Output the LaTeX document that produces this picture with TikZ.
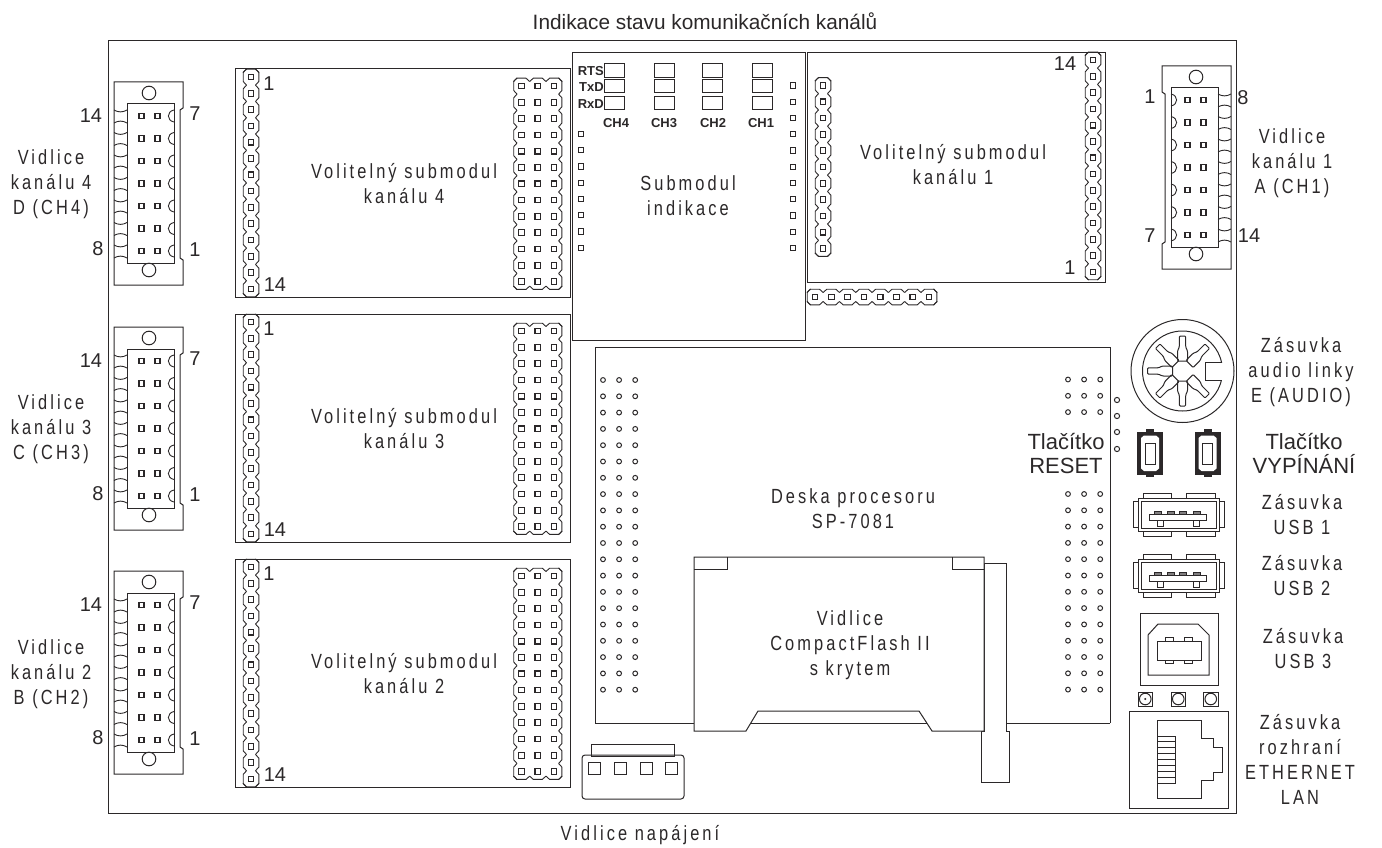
\documentclass[tikz,border=0pt]{standalone}
\usepackage{fontspec}
\setmainfont{Liberation Sans}
\newfontfamily\lblfont[FakeStretch=0.8,LetterSpace=15]{Liberation Sans}
\definecolor{linecol}{HTML}{2B2829}

\tikzset{
    outline/.style={draw=linecol,line width=1pt,line join=miter},
    lobe/.style={draw=linecol,line width=0.9pt},
    pad/.style={draw=linecol,line width=1.1pt},
    hole/.style={draw=linecol,line width=1pt},
    lbl/.style={inner sep=0pt,align=center,text=linecol,font=\fontsize{20.5}{25}\selectfont\lblfont},
    num/.style={inner sep=0pt,text=linecol,font=\fontsize{20}{22}\selectfont},
    big/.style={inner sep=0pt,align=center,text=linecol,font=\fontsize{22}{24}\selectfont},
    head/.style={inner sep=0pt,text=linecol,font=\fontsize{20.8}{22}\selectfont},
    led/.style={inner sep=0pt,text=linecol,font=\fontsize{13}{14}\selectfont\bfseries}
}

\newcommand{\pinstrip}[4]{
    \foreach \c in {1,...,#3} {
        \foreach \r in {1,...,#4} {
            \pgfmathsetmacro{\px}{#1+(\c-1)*16.3}
            \pgfmathsetmacro{\py}{#2+(\r-1)*16.3}
            \draw[pad] (\px-2.8,\py-2.8) rectangle (\px+2.8,\py+2.8);
        }
    }
    \pgfmathsetmacro{\xa}{#1}
    \pgfmathsetmacro{\xb}{#1+(#3-1)*16.3}
    \pgfmathsetmacro{\ya}{#2}
    \pgfmathsetmacro{\yb}{#2+(#4-1)*16.3}
    \foreach \r in {1,...,#4} {
        \pgfmathsetmacro{\py}{#2+(\r-1)*16.3}
        \draw[lobe] (\xa-4.5,\py-8.15) -- (\xa-7.8,\py-4.5) -- (\xa-7.8,\py+4.5) -- (\xa-4.5,\py+8.15);
        \draw[lobe] (\xb+4.5,\py-8.15) -- (\xb+7.8,\py-4.5) -- (\xb+7.8,\py+4.5) -- (\xb+4.5,\py+8.15);
    }
    \foreach \c in {1,...,#3} {
        \pgfmathsetmacro{\px}{#1+(\c-1)*16.3}
        \draw[lobe] (\px-8.15,\ya-4.5) -- (\px-4.5,\ya-7.8) -- (\px+4.5,\ya-7.8) -- (\px+8.15,\ya-4.5);
        \draw[lobe] (\px-8.15,\yb+4.5) -- (\px-4.5,\yb+7.8) -- (\px+4.5,\yb+7.8) -- (\px+8.15,\yb+4.5);
    }
}

\newcommand{\padcolumn}[4]{
    \foreach \r in {1,...,#4} {
        \pgfmathsetmacro{\py}{#2+(\r-1)*#3}
        \draw[pad] (#1-2.6,\py-2.6) rectangle (#1+2.6,\py+2.6);
    }
}

\newcommand{\holegrid}[3]{
    \foreach \c in {0,1,2} {
        \foreach \r in {1,...,#3} {
            \pgfmathsetmacro{\px}{#1+\c*16.1}
            \pgfmathsetmacro{\py}{#2+(\r-1)*16.3}
            \draw[hole] (\px,\py) circle[radius=2.4];
        }
    }
}

\newcommand{\channelconn}[1]{
    \begin{scope}[#1]
        \draw[outline] (114,82) -- (183,82) -- (183,108) -- (180,110) -- (180,258) -- (183,260) -- (183,285) -- (114,285) -- cycle;
        \draw[outline] (127,104) rectangle (174,263);
        \draw[outline] (149,93) circle[radius=6.8];
        \draw[outline] (149,270) circle[radius=6.8];
        \foreach \r in {0,...,6} {
            \pgfmathsetmacro{\py}{116+\r*22.5}
            \draw[pad] (139,\py-2.6) rectangle (144,\py+2.6);
            \draw[pad] (155,\py-2.6) rectangle (160,\py+2.6);
            \draw[lobe] (174,\py-6) .. controls (166.5,\py-4.5) and (166.5,\py+4.5) .. (174,\py+6);
            \draw[lobe] (114,\py-6) .. controls (118,\py-3.5) and (123,\py-3.5) .. (127,\py-6);
            \draw[lobe] (114,\py+7) .. controls (118,\py+4.5) and (123,\py+4.5) .. (127,\py+7);
        }
    \end{scope}
}

\newcommand{\usbsocket}[1]{
    \begin{scope}[shift={(0,#1)}]
        \draw[outline] (1143,554) rectangle (1171,559);
        \draw[outline] (1186,554) rectangle (1215,559);
        \draw[outline] (1143,592) rectangle (1171,597);
        \draw[outline] (1186,592) rectangle (1215,597);
        \draw[outline] (1133,562) rectangle (1138,588);
        \draw[outline] (1219,562) rectangle (1224,588);
        \draw[outline] (1138,559) rectangle (1219,592);
        \draw[outline] (1141,562) rectangle (1216,589);
        \draw[outline] (1149,575) rectangle (1206,581);
        \foreach \px in {1158,1171,1183,1197} {
            \draw[outline,fill=linecol!60] (\px-3.5,572.5) rectangle (\px+3.5,575);
        }
        \draw[outline] (1157,581) rectangle (1163,587);
        \draw[outline] (1193,581) rectangle (1199,587);
    \end{scope}
}

\newcommand{\pushbutton}[1]{
    \begin{scope}[shift={(#1,0)}]
        \fill[linecol] (1146,429) rectangle (1154,433);
        \fill[linecol] (1146,473) rectangle (1154,477);
        \fill[linecol] (1137,431.5) rectangle (1163,475);
        \fill[white] (1141,438) -- (1144,435.5) -- (1156,435.5) -- (1159,438) -- (1159,468.5) -- (1156,471) -- (1144,471) -- (1141,468.5) -- cycle;
        \draw[outline] (1145,443) rectangle (1155,464);
    \end{scope}
}

\begin{document}
\begin{tikzpicture}[x=1pt,y=-1pt]
    \useasboundingbox (0,0) rectangle (1382,848);
    \draw[outline] (108,41) rectangle (1236,813);

    \foreach \top in {69,314,559} {
        \draw[outline] (235,\top) rectangle (570,\top+228.5);
        \pinstrip{251}{\top+8}{1}{14}
        \pinstrip{521.5}{\top+17}{3}{13}
    }
    \channelconn{shift={(0,0)}}
    \channelconn{shift={(0,245)}}
    \channelconn{shift={(0,489)}}
    \channelconn{shift={(1345,-16)},xscale=-1}

    \draw[outline] (572,53) rectangle (805,340);
    \foreach \lx in {604,654,702,752} {
        \draw[outline] (\lx,64) rectangle (\lx+20,78);
        \draw[outline] (\lx,80) rectangle (\lx+20,93);
        \draw[outline] (\lx,97) rectangle (\lx+20,110);
    }
    \padcolumn{793}{85.5}{16.25}{11}
    \padcolumn{581}{134}{16.25}{8}

    \draw[outline] (807,53) rectangle (1105,282);
    \pinstrip{823}{85.5}{1}{11}
    \pinstrip{1093}{60}{1}{14}
    \pinstrip{815}{297}{8}{1}

    \draw[outline] (1110,723) -- (1110,347) -- (595,347) -- (595,723) -- (1110,723);
    \holegrid{603}{380}{20}
    \holegrid{1068}{379.5}{3}
    \holegrid{1068}{494}{13}
    \foreach \hy in {400,416,432,449} {
        \draw[hole] (1117,\hy) circle[radius=2.6];
    }

    \draw[outline,fill=white] (984,563) -- (1006,563) -- (1006,731) -- (1009,731) -- (1009,782) -- (981,782) -- (981,731) -- (984,731) -- cycle;
    \draw[outline,fill=white] (694,557) -- (984,557) -- (984,731) -- (932,731) -- (919,711) -- (758,711) -- (746,731) -- (694,731) -- cycle;
    \draw[outline] (753,723) -- (926,723);
    \draw[outline] (694,569) -- (727,569) -- (727,557);
    \draw[outline] (984,569) -- (952,569) -- (952,557);

    \draw[outline,rounded corners=3pt] (582,755) rectangle (684,799);
    \draw[outline] (591,744) rectangle (674,756);
    \foreach \sx in {588,614,640,665} {
        \draw[outline] (\sx,762) rectangle (\sx+12.5,774);
    }

    \begin{scope}[shift={(1182.5,371)}]
        \draw[outline] (0,0) circle[radius=51.5];
        \draw[outline] (0,0) circle[radius=40];
        \fill[white] (28,-8.5) rectangle (44,8.5);
        \draw[outline] (39,-9) -- (22.5,-9) -- (22.5,9) -- (39,9);
        \foreach \ang in {0,45,90,135,180,225,315} {
            \draw[outline,rotate=\ang,rounded corners=1pt] (-5,-10) -- (-5,-20) -- (-3.2,-24) -- (-3.2,-35) -- (3.2,-35) -- (3.2,-24) -- (5,-20) -- (5,-10) -- cycle;
        }
    \end{scope}

    \pushbutton{0}
    \pushbutton{57.5}
    \usbsocket{-61}
    \usbsocket{0}

    \draw[outline] (1140,613) rectangle (1218,685);
    \draw[outline] (1148,635) -- (1158,624) -- (1198,624) -- (1209,635) -- (1209,675) -- (1148,675) -- cycle;
    \draw[outline] (1157,641) rectangle (1201,660);
    \foreach \tx in {1165,1184} {
        \draw[outline] (\tx,637) rectangle (\tx+8,641);
        \draw[outline] (\tx,660) rectangle (\tx+8,663.5);
    }

    \foreach \lx in {1138,1171,1203.5} {
        \draw[outline] (\lx,692) rectangle (\lx+14.5,706);
        \draw[outline] (\lx+7.25,699) circle[radius=5.8];
    }
    \fill[linecol] (1145.25,699) circle[radius=1.2];

    \draw[outline] (1129,711) rectangle (1228,808);
    \draw[outline] (1157,720) -- (1201,720) -- (1201,738) -- (1213,738) -- (1213,747) -- (1222,747) -- (1222,772) -- (1213,772) -- (1213,780) -- (1201,780) -- (1201,798) -- (1157,798) -- cycle;
    \foreach \b in {0,...,7} {
        \draw[outline] (1157,736+\b*5.9) rectangle (1175,736+\b*5.9+5.9);
    }

    \node[head] (title) at (705,21) {Indikace stavu komunikačních kanálů};
    \node[lbl] (power) at (640,835) {Vidlice napájení};
    \node[lbl] (sub4) at (404,184) {Volitelný submodul\\kanálu 4};
    \node[lbl] (sub3) at (404,429) {Volitelný submodul\\kanálu 3};
    \node[lbl] (sub2) at (404,674) {Volitelný submodul\\kanálu 2};
    \node[lbl] (sub1) at (953,165) {Volitelný submodul\\kanálu 1};
    \node[lbl] (indik) at (688,196) {Submodul\\indikace};
    \node[lbl] (cpu) at (853,509) {Deska procesoru\\SP-7081};
    \node[lbl] (cf) at (850,645) {Vidlice\\CompactFlash II\\s krytem};
    \node[lbl] (ch4) at (51,184) {Vidlice\\kanálu 4\\D (CH4)};
    \node[lbl] (ch3) at (51,429) {Vidlice\\kanálu 3\\C (CH3)};
    \node[lbl] (ch2) at (51,674) {Vidlice\\kanálu 2\\B (CH2)};
    \node[lbl] (ch1) at (1292,163) {Vidlice\\kanálu 1\\A (CH1)};
    \node[lbl] (audio) at (1301,372) {Zásuvka\\audio linky\\E (AUDIO)};
    \node[lbl] (usb1) at (1302,515) {Zásuvka\\USB 1};
    \node[lbl] (usb2) at (1302,576) {Zásuvka\\USB 2};
    \node[lbl] (usb3) at (1303,649) {Zásuvka\\USB 3};
    \node[lbl] (lan) at (1300,759) {Zásuvka\\rozhraní\\ETHERNET\\LAN};
    \node[big] (reset) at (1066,454) {Tlačítko\\RESET};
    \node[big] (vyp) at (1304,453) {Tlačítko\\VYPÍNÁNÍ};

    \node[num] (n41) at (91,116) {14};
    \node[num] (n42) at (195,114) {7};
    \node[num] (n43) at (98,249) {8};
    \node[num] (n44) at (195,250) {1};
    \node[num] (n31) at (91,361) {14};
    \node[num] (n32) at (195,359) {7};
    \node[num] (n33) at (98,494) {8};
    \node[num] (n34) at (195,495) {1};
    \node[num] (n21) at (91,605) {14};
    \node[num] (n22) at (195,603) {7};
    \node[num] (n23) at (98,738) {8};
    \node[num] (n24) at (195,739) {1};
    \node[num] (n11) at (1150,97) {1};
    \node[num] (n12) at (1243,98) {8};
    \node[num] (n13) at (1150,236) {7};
    \node[num] (n14) at (1249,236) {14};
    \foreach \top in {69,314,559} {
        \node[num] (one\top) at (269,\top+15) {1};
        \node[num] (last\top) at (275,\top+216) {14};
    }
    \node[num] (m14) at (1065,64) {14};
    \node[num] (m1) at (1070,268) {1};

    \node[led,anchor=east] (rts) at (604,71) {RTS};
    \node[led,anchor=east] (txd) at (604,87) {TxD};
    \node[led,anchor=east] (rxd) at (604,104) {RxD};
    \node[led] (c4) at (616,123) {CH4};
    \node[led] (c3) at (664,123) {CH3};
    \node[led] (c2) at (713,123) {CH2};
    \node[led] (c1) at (761,123) {CH1};
\end{tikzpicture}
\end{document}
